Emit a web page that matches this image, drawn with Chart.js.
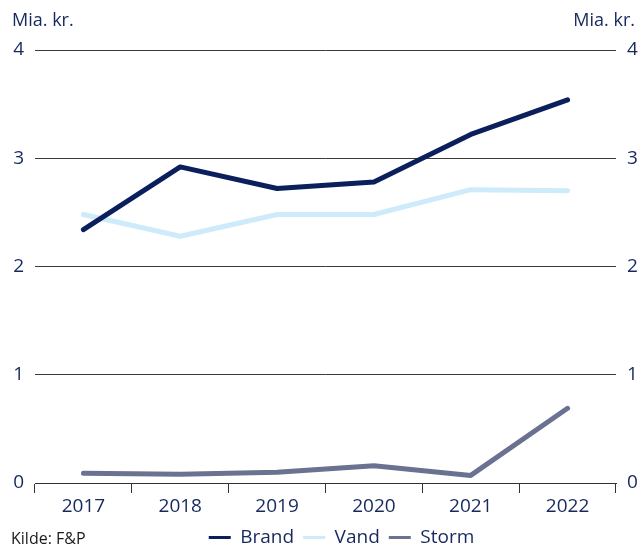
<!DOCTYPE html>
<html>
<head>
<meta charset="utf-8">
<script src="https://cdn.jsdelivr.net/npm/chart.js@4.4.1/dist/chart.umd.min.js"></script>
<style>
  body { margin: 0; background: #fff; }
  #wrap { position: relative; width: 641px; height: 544px; font-family: 'Open Sans', sans-serif; }
  .unit { position: absolute; top: 7px; font-size: 18px; color: #17285e; }
  #kilde { position: absolute; left: 11px; top: 527px; font-size: 16px; color: #1a1a1a; }
</style>
</head>
<body>
<div id="wrap">
  <canvas id="chart" width="641" height="544"></canvas>
  <div class="unit" style="left:12px">Mia. kr.</div>
  <div class="unit" style="right:6px">Mia. kr.</div>
  <div id="kilde">Kilde: F&amp;P</div>
</div>
<script>
// data
const years = ["2017", "2018", "2019", "2020", "2021", "2022"];
const brand = [2.34, 2.92, 2.72, 2.78, 3.22, 3.54];
const vand = [2.48, 2.28, 2.48, 2.48, 2.71, 2.70];
const storm = [0.09, 0.08, 0.10, 0.16, 0.07, 0.69];
const yTicks = [0, 1, 2, 3, 4];

const navy = "#17285e";
Chart.defaults.font.family = "'Open Sans', sans-serif";
Chart.defaults.font.size = 19;
Chart.defaults.color = navy;

function line(label, data, color) {
    return {
        label: label,
        data: data,
        borderColor: color,
        backgroundColor: color,
        borderWidth: 5,
        pointRadius: 0,
        tension: 0,
        borderCapStyle: "round",
        borderJoinStyle: "round",
        yAxisID: "y"
    };
}

// nudge the legend to the right, like in the source
const shiftLegend = {
    id: "shiftLegend",
    afterLayout(chart) {
        chart.legend.left += 21;
        chart.legend.right += 21;
    }
};

new Chart(document.getElementById("chart"), {
    type: "line",
    data: {
        labels: years,
        datasets: [
            line("Brand", brand, "#0a1f5c"),
            line("Vand", vand, "#cdebfa"),
            line("Storm", storm, "#6b7191")
        ]
    },
    options: {
        responsive: false,
        animation: false,
        layout: { padding: { top: 50, bottom: -13, left: 0, right: 0 } },
        plugins: {
            tooltip: { enabled: false },
            legend: {
                position: "bottom",
                labels: {
                    boxWidth: 22,
                    boxHeight: 3,
                    padding: 9,
                    color: navy,
                    generateLabels(chart) {
                        return chart.data.datasets.map((ds, i) => ({
                            text: ds.label,
                            fillStyle: ds.borderColor,
                            strokeStyle: ds.borderColor,
                            lineWidth: 0,
                            fontColor: navy,
                            datasetIndex: i
                        }));
                    }
                }
            }
        },
        scales: {
            x: {
                offset: true,
                grid: { drawOnChartArea: false, tickLength: 10, color: "#333", offset: true },
                border: { color: "#333" },
                ticks: { padding: 2, color: navy },
                afterFit(s) { s.height = 36; }
            },
            y: {
                position: "left",
                min: 0, max: 4,
                afterBuildTicks(s) { s.ticks = yTicks.map(v => ({ value: v })); },
                grid: { color: "#3a3a3a", drawTicks: false },
                border: { display: false },
                ticks: { padding: 11, color: navy },
                afterFit(s) { s.width = 35; }
            },
            y2: {
                position: "right",
                min: 0, max: 4,
                afterBuildTicks(s) { s.ticks = yTicks.map(v => ({ value: v })); },
                grid: { display: false, drawTicks: false },
                border: { display: false },
                ticks: { padding: 11, color: navy },
                afterFit(s) { s.width = 25; }
            }
        }
    },
    plugins: [shiftLegend]
});
</script>
</body>
</html>
